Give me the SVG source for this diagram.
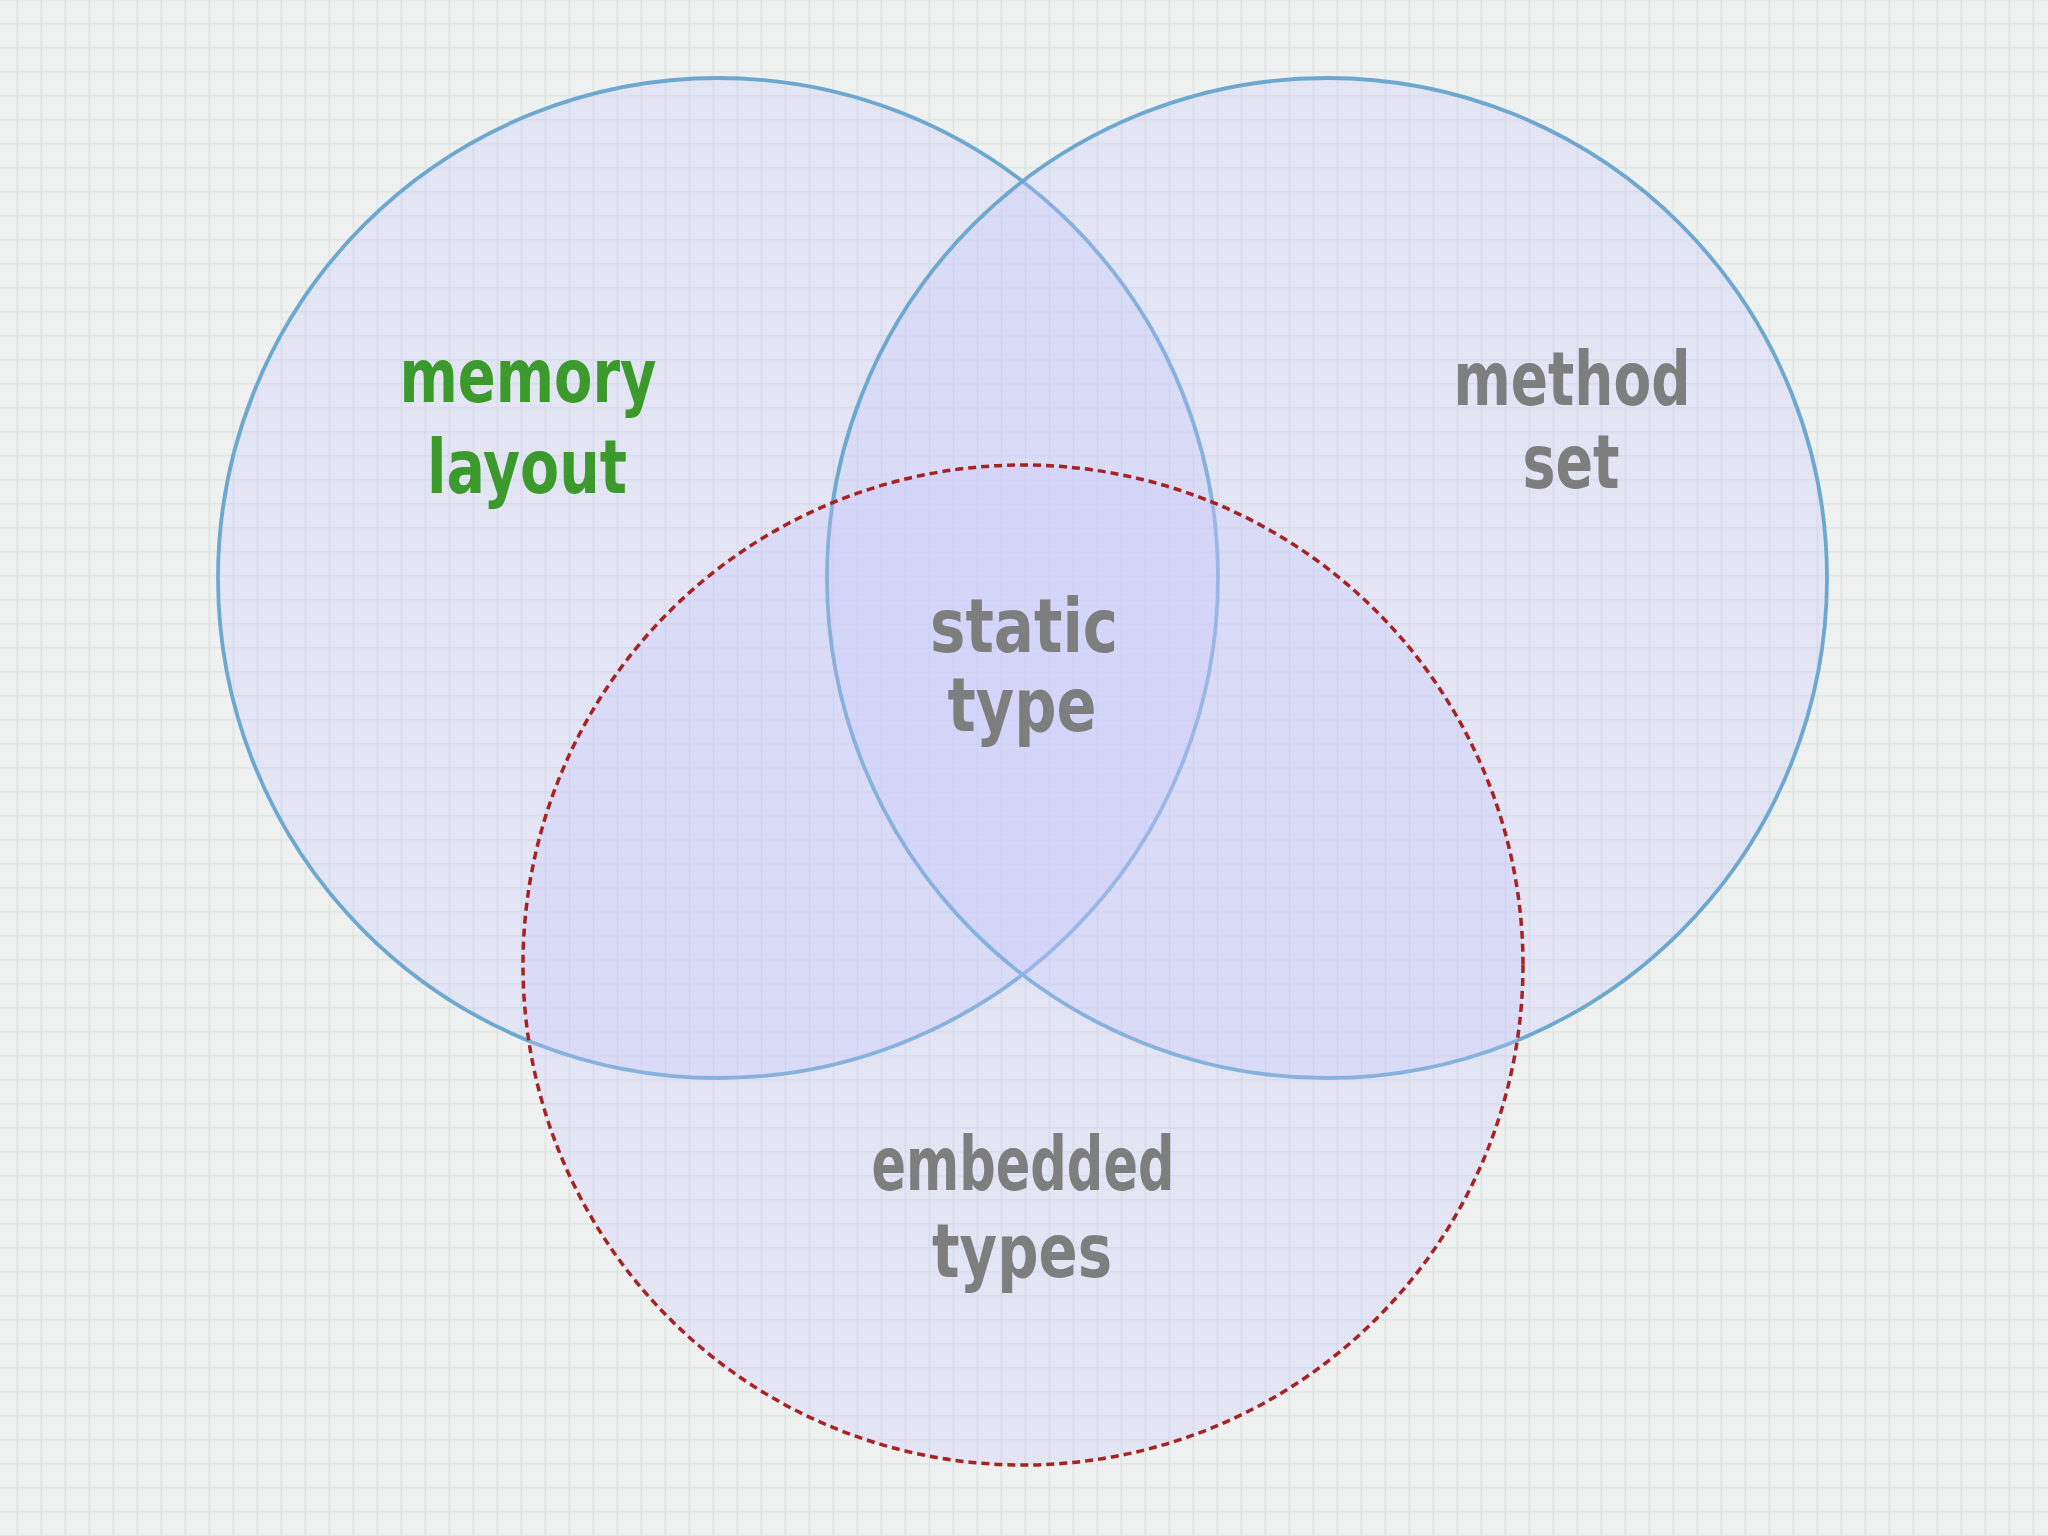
<svg xmlns="http://www.w3.org/2000/svg" width="2048" height="1536" viewBox="0 0 2048 1536">
  <defs>
    <pattern id="grid" x="16.7" y="23.3" width="24" height="24" patternUnits="userSpaceOnUse">
      <path d="M0 0.5 H24 M0.5 0 V24" fill="none" stroke="#d9e3e3" stroke-width="1.5"/>
    </pattern>
    <style>
      .set { fill: #c8c8ff; fill-opacity: 0.3; }
      .solid { fill: none; stroke: #6ca8d0; stroke-width: 3.8; }
      .dashed { fill: none; stroke: #a82222; stroke-width: 3.5; stroke-dasharray: 8 5; }
      .lbl { font-family: "DejaVu Sans Condensed", "Liberation Sans Narrow", "DejaVu Sans", sans-serif; font-weight: bold; font-size: 74px; text-anchor: middle; }
      .grey { fill: #7e7e7e; }
      .green { fill: #3c9a2c; }
    </style>
  </defs>
  <rect width="2048" height="1536" fill="#eff1f0"/>
  <rect width="2048" height="1536" fill="url(#grid)"/>

  <g id="memory-layout">
    <circle class="set" cx="718" cy="578" r="500"/>
    <circle class="solid" cx="718" cy="578" r="500"/>
  </g>
  <g id="method-set">
    <circle class="set" cx="1327" cy="578" r="500"/>
    <circle class="solid" cx="1327" cy="578" r="500"/>
  </g>
  <g id="embedded-types">
    <circle class="set" cx="1023" cy="965" r="500"/>
    <circle class="dashed" cx="1023" cy="965" r="500"/>
  </g>
  <g id="connectors"></g>

  <g id="labels">
    <text class="lbl green" x="528" y="402" textLength="257" lengthAdjust="spacingAndGlyphs">memory</text>
    <text class="lbl green" x="527" y="493" textLength="200" lengthAdjust="spacingAndGlyphs">layout</text>
    <text class="lbl grey" x="1572" y="405" textLength="237" lengthAdjust="spacingAndGlyphs">method</text>
    <text class="lbl grey" x="1571" y="488" textLength="97" lengthAdjust="spacingAndGlyphs">set</text>
    <text class="lbl grey" x="1024" y="652" textLength="188" lengthAdjust="spacingAndGlyphs">static</text>
    <text class="lbl grey" x="1022" y="731" textLength="149" lengthAdjust="spacingAndGlyphs">type</text>
    <text class="lbl grey" x="1023" y="1190" textLength="303" lengthAdjust="spacingAndGlyphs">embedded</text>
    <text class="lbl grey" x="1022" y="1277" textLength="180" lengthAdjust="spacingAndGlyphs">types</text>
  </g>
</svg>
